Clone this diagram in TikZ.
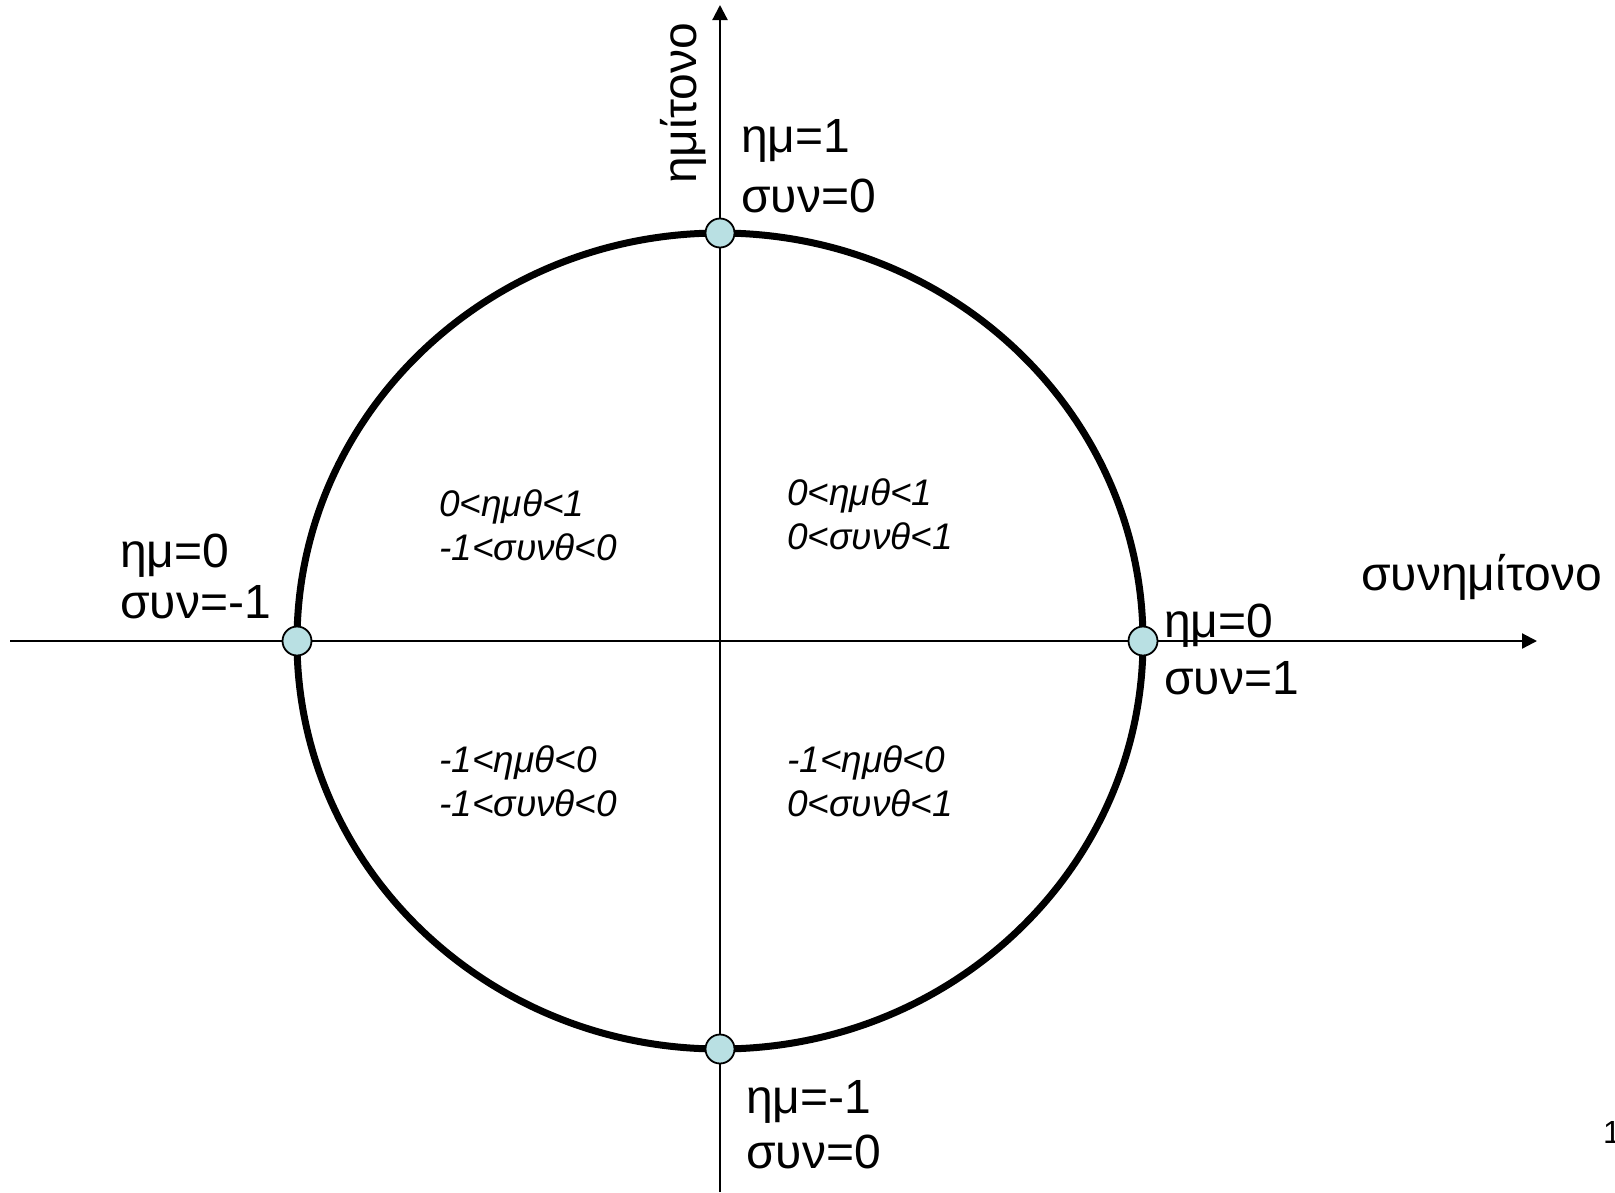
\documentclass[tikz,border=0pt]{standalone}
\usepackage{fontspec}
\setmainfont{Liberation Sans}
\usetikzlibrary{arrows.meta,shapes.geometric}
\definecolor{dotfill}{RGB}{185,224,227}

\tikzset{
  axisline/.style={line width=2.2pt, -{Triangle[length=15pt,width=15pt]}},
  unitcurve/.style={draw, ellipse, line width=7pt, inner sep=0pt, outer sep=0pt,
                    minimum width=846pt, minimum height=816pt},
  pointdot/.style={draw, circle, line width=1.8pt, fill=dotfill,
                   minimum size=29pt, inner sep=0pt},
  % multi-line labels: the base anchor sits on the last line
  biglabel/.style={anchor=base west, inner sep=0pt, align=left},
  quadlabel/.style={anchor=base west, inner sep=0pt, align=left,
                    font=\itshape\fontsize{37}{44}\selectfont},
}

\begin{document}
\begin{tikzpicture}[x=1pt, y=-1pt]
  \clip (0,0) rectangle (1615,1192);
  \fill[white] (0,0) rectangle (1615,1192);

  % axes
  \coordinate (xs) at (10,641);
  \coordinate (xe) at (1537,641);
  \coordinate (ys) at (720,1192);
  \coordinate (ye) at (720,5);
  \draw[axisline] (xs) -- (xe);
  \draw[axisline] (ys) -- (ye);

  % unit circle and its four axis points
  \node[unitcurve] (unit) at (720,641) {};
  \node[pointdot] (pN) at (unit.north) {};
  \node[pointdot] (pS) at (unit.south) {};
  \node[pointdot] (pW) at (unit.west) {};
  \node[pointdot] (pE) at (unit.east) {};

  % axis names
  \node[anchor=base west, inner sep=0pt, rotate=90,
        font=\fontsize{48}{56}\selectfont] (sinname) at (696,184) {ημίτονο};
  \node[anchor=base west, inner sep=0pt,
        font=\fontsize{48}{56}\selectfont] (cosname) at (1361,590) {συνημίτονο};

  % values at the axis points
  \node[biglabel, font=\fontsize{48}{60}\selectfont] (lN) at (741,212) {ημ=1\\συν=0};
  \node[biglabel, font=\fontsize{48}{57}\selectfont] (lE) at (1164,694) {ημ=0\\συν=1};
  \node[biglabel, font=\fontsize{48}{51}\selectfont] (lW) at (120,618) {ημ=0\\συν=-1};
  \node[biglabel, font=\fontsize{48}{55}\selectfont] (lS) at (746,1168) {ημ=-1\\συν=0};

  % sign ranges in the quadrants
  \node[quadlabel] (q2) at (439,560) {0<ημθ<1\\-1<συνθ<0};
  \node[quadlabel] (q1) at (787,549) {0<ημθ<1\\0<συνθ<1};
  \node[quadlabel] (q3) at (439,816) {-1<ημθ<0\\-1<συνθ<0};
  \node[quadlabel] (q4) at (787,816) {-1<ημθ<0\\0<συνθ<1};

  % page number
  \node[anchor=base west, inner sep=0pt,
        font=\fontsize{32}{38}\selectfont] (pagenum) at (1603,1143) {1};
\end{tikzpicture}
\end{document}
